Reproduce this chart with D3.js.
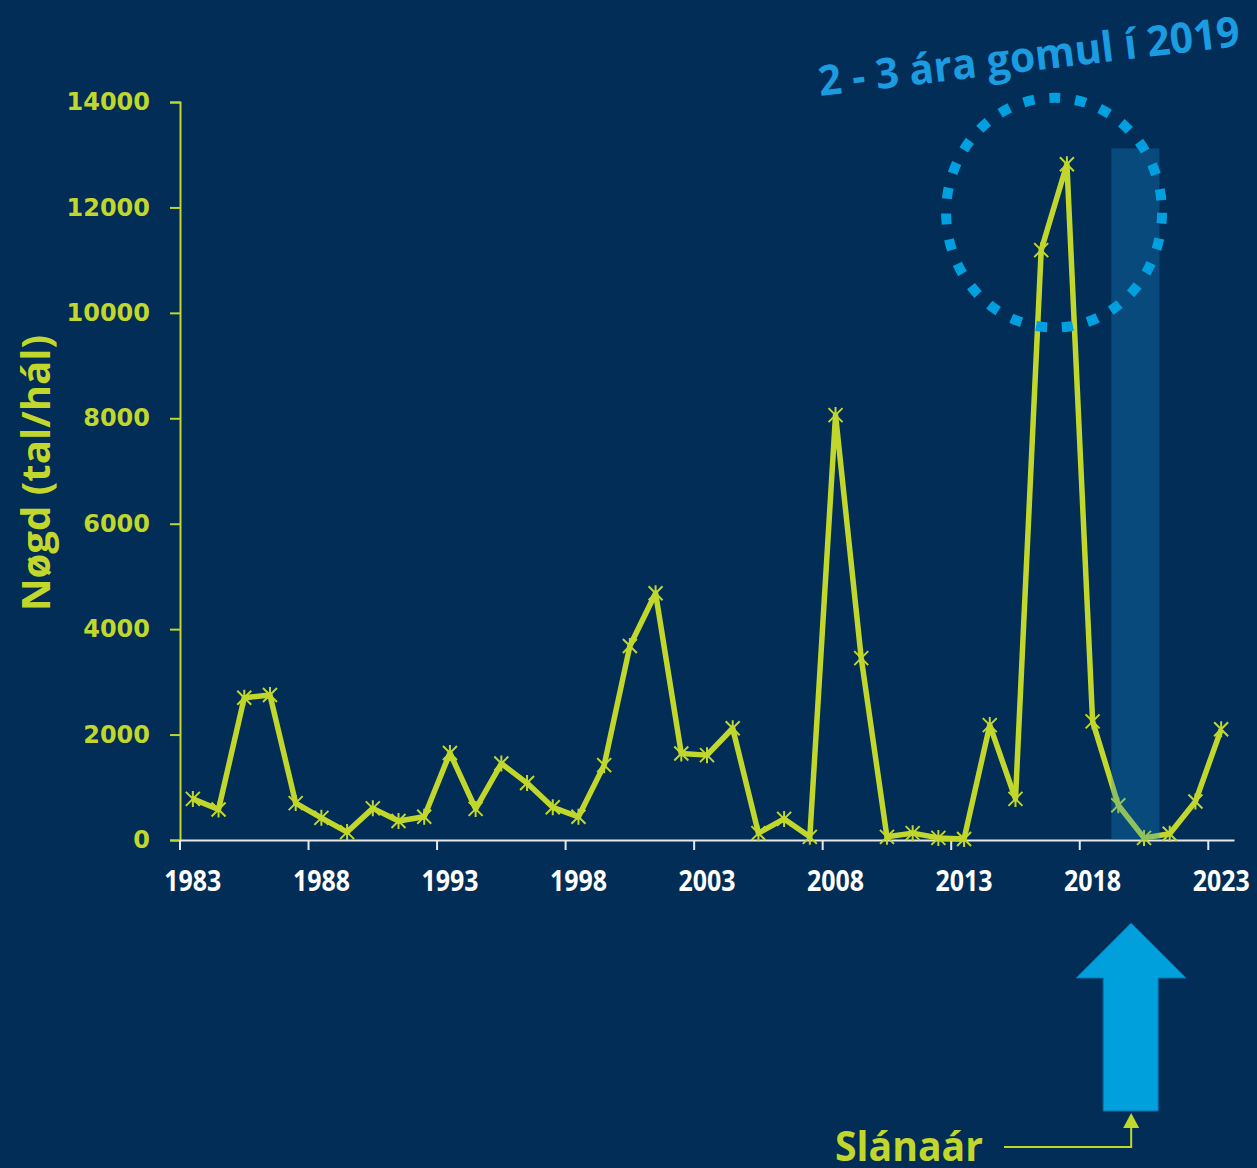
<!DOCTYPE html>
<html>
<head>
<meta charset="utf-8">
<script src="https://cdn.jsdelivr.net/npm/d3@7"></script>
<style>
  html, body { margin: 0; padding: 0; background: #012d56; }
  svg { display: block; }
</style>
</head>
<body>
<svg width="1257" height="1168"></svg>
<script>
// árini og nøgdin (tal/hál)
const years = d3.range(1983, 2024);
const counts = [780, 580, 2700, 2750, 700, 420, 150, 600, 360, 440,
                1650, 590, 1450, 1080, 620, 440, 1420, 3680, 4680, 1640,
                1610, 2120, 130, 400, 60, 8060, 3450, 60, 130, 40,
                20, 2180, 780, 11190, 12820, 2250, 660, 40, 120, 730,
                2100];
const yTicks = [0, 2000, 4000, 6000, 8000, 10000, 12000, 14000];
const xLabels = [1983, 1988, 1993, 1998, 2003, 2008, 2013, 2018, 2023];

const green = "#c2d72b";
const blue = "#009fdf";

let svg = d3.select("svg");

let area = { left: 180, right: 1234, top: 102, bottom: 840 };

let scX = d3.scaleBand().domain(years).range([area.left, area.right]).padding(0);
let scY = d3.scaleLinear().domain([0, 14000]).range([area.bottom, area.top]);
const bw = scX.bandwidth();
const cx = d => scX(d) + bw / 2;

// y ás
let gy = svg.append("g")
    .attr("transform", `translate(${area.left},0)`)
    .call(d3.axisLeft(scY).tickValues(yTicks).tickSize(10).tickPadding(20).tickFormat(d3.format("d")));
gy.select(".domain").attr("stroke", green).attr("stroke-width", 2);
gy.selectAll(".tick line").attr("stroke", green).attr("stroke-width", 2);
gy.selectAll(".tick text")
    .attr("fill", green)
    .style("font-family", "'DejaVu Sans', Verdana, sans-serif")
    .style("font-weight", "bold")
    .style("font-size", "24px");

// x ás (ticks millum bólkarnar)
let gx = svg.append("g")
    .attr("transform", `translate(0,${area.bottom})`)
    .call(d3.axisBottom(scX).tickValues(xLabels).tickSize(0).tickPadding(30));
gx.select(".domain").attr("stroke", "#e8e8e8").attr("stroke-width", 2);
gx.selectAll(".tick text")
    .attr("fill", "#ffffff")
    .attr("transform", "scale(0.86,1)")
    .style("font-family", "'Open Sans', sans-serif")
    .style("font-weight", "bold")
    .style("font-size", "29px");
gx.selectAll(".boundary")
    .data(xLabels)
    .enter()
    .append("line")
    .attr("x1", d => scX(d)).attr("x2", d => scX(d))
    .attr("y1", 0).attr("y2", 10)
    .attr("stroke", "#e8e8e8").attr("stroke-width", 2);

// y ás heiti
svg.append("text")
    .attr("transform", `translate(50,${(area.top + area.bottom) / 2 + 2}) rotate(-90)`)
    .attr("text-anchor", "middle")
    .attr("fill", green)
    .attr("textLength", 276)
    .attr("lengthAdjust", "spacingAndGlyphs")
    .style("font-family", "'Open Sans', sans-serif")
    .style("font-weight", "bold")
    .style("font-size", "40px")
    .text("Nøgd (tal/hál)");

// linjan
const pts = years.map((y, i) => ({ year: y, value: counts[i] }));
const line = d3.line().x(d => cx(d.year)).y(d => scY(d.value));

svg.append("path")
    .datum(pts)
    .attr("d", line)
    .attr("fill", "none")
    .attr("stroke", green)
    .attr("stroke-width", 5.5)
    .attr("stroke-linejoin", "round");

// stjørnu markørar
svg.selectAll(".mark")
    .data(pts)
    .enter()
    .append("path")
    .attr("transform", d => `translate(${cx(d.year)},${scY(d.value)})`)
    .attr("d", "M-7,-7L7,7M-7,7L7,-7M0,-8V8")
    .attr("stroke", green)
    .attr("stroke-width", 2)
    .attr("fill", "none");

// skuggi um slánaár
svg.append("rect")
    .attr("x", scX(2019) + bw * 0.23)
    .attr("y", scY(13120))
    .attr("width", scX(2021) + bw * 0.1 - (scX(2019) + bw * 0.23))
    .attr("height", scY(0) - scY(13120))
    .attr("fill", "#1a8fd0")
    .attr("fill-opacity", 0.3);

// prikkaður ringur
svg.append("ellipse")
    .attr("cx", scX(2017))
    .attr("cy", scY(11900))
    .attr("rx", bw * 4.2)
    .attr("ry", scY(0) - scY(2180))
    .attr("fill", "none")
    .attr("stroke", blue)
    .attr("stroke-width", 10)
    .attr("stroke-dasharray", "11 15");

svg.append("text")
    .attr("transform", "translate(820,96) rotate(-6.8)")
    .attr("fill", "#1b9be0")
    .attr("textLength", 424)
    .attr("lengthAdjust", "spacingAndGlyphs")
    .style("font-family", "'Open Sans', sans-serif")
    .style("font-weight", "bold")
    .style("font-size", "42px")
    .text("2 - 3 ára gomul í 2019");

// stóra pílin
const ax = scX(2020);
svg.append("path")
    .attr("d", `M${ax},923 L${ax + 55},978 L${ax + 27},978 L${ax + 27},1111 L${ax - 28},1111 L${ax - 28},978 L${ax - 55},978 Z`)
    .attr("fill", "#00a0dd")
    .attr("stroke", "#0a6fa8")
    .attr("stroke-width", 1);

// Slánaár og smápílin
svg.append("path")
    .attr("d", `M1004,1147 H${ax} V1126`)
    .attr("fill", "none")
    .attr("stroke", green)
    .attr("stroke-width", 2);
svg.append("path")
    .attr("d", `M${ax},1113 L${ax + 8},1128 L${ax - 8},1128 Z`)
    .attr("fill", green);

svg.append("text")
    .attr("x", 835)
    .attr("y", 1161)
    .attr("fill", green)
    .attr("textLength", 148)
    .attr("lengthAdjust", "spacingAndGlyphs")
    .style("font-family", "'Open Sans', sans-serif")
    .style("font-weight", "bold")
    .style("font-size", "42px")
    .text("Slánaár");
</script>
</body>
</html>
